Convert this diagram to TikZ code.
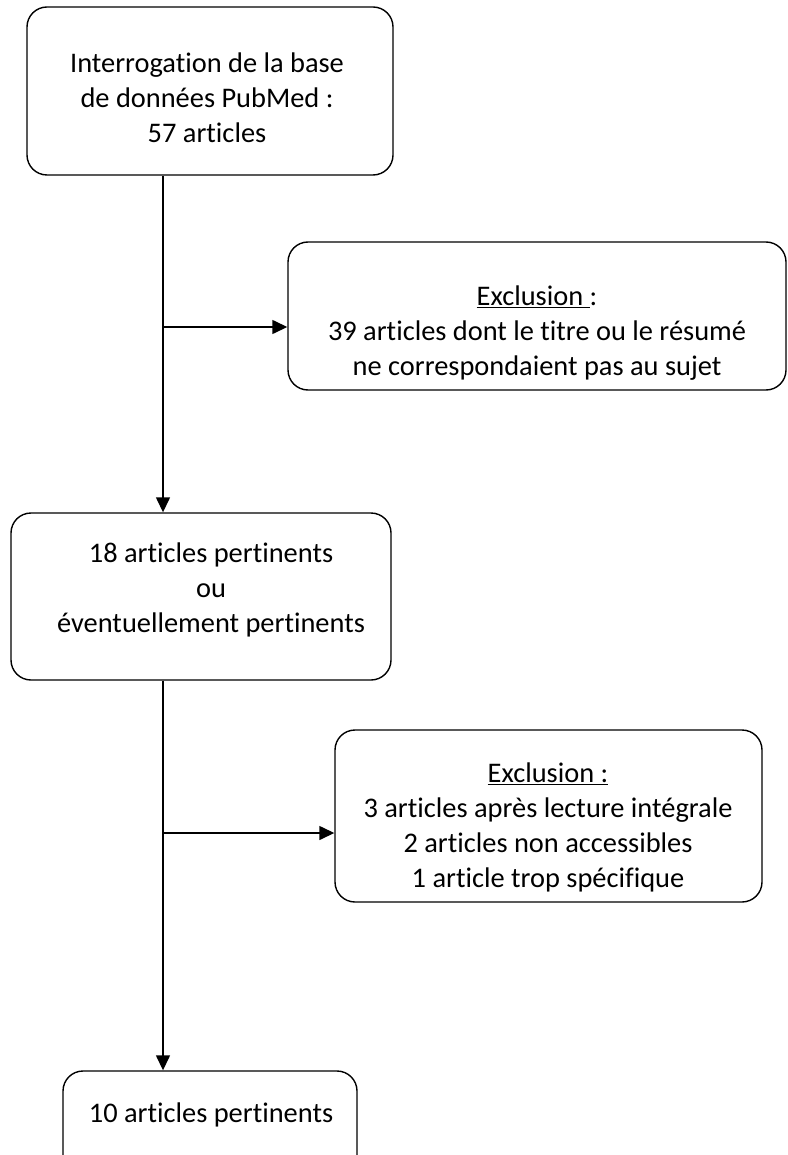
\documentclass[tikz,border=0pt]{standalone}
\usepackage{fontspec}
\setmainfont[Ligatures={NoCommon}]{Carlito}
\usetikzlibrary{arrows.meta}
\begin{document}
\begin{tikzpicture}[x=1pt,y=-1pt,
  box/.style={draw, line width=1.4pt, rounded corners=20pt, inner sep=0pt},
  txt/.style={align=center, inner sep=0pt, font=\fontsize{28.4}{35}\selectfont},
  arr/.style={line width=1.4pt, -{Triangle[length=15pt,width=14pt]}},
  ln/.style={line width=1.4pt}]
\useasboundingbox (0,0) rectangle (787,1155);
\clip (0,0) rectangle (787,1155);
% boxes
\node[box, minimum width=366pt, minimum height=168pt] (q) at (210,91) {};
\node[txt] (qt) at (207,97.5) {Interrogation de la base\\de données PubMed :\\57 articles};
\node[box, minimum width=498pt, minimum height=148pt] (e1) at (537,316) {};
\node[txt] (e1t) at (537,333) {\underline{Exclusion }:\\39 articles dont le titre ou le résumé\\ne correspondaient pas au sujet};
\node[box, minimum width=380pt, minimum height=167pt] (r) at (201,596.5) {};
\node[txt] (rt) at (211,590) {18 articles pertinents\\ou\\éventuellement pertinents};
\node[box, minimum width=427pt, minimum height=172pt] (e2) at (548.5,816) {};
\node[txt] (e2t) at (548,827.5) {\underline{Exclusion :}\\3 articles après lecture intégrale\\2 articles non accessibles\\1 article trop spécifique};
\node[box, minimum width=294pt, minimum height=120pt] (f) at (210,1131) {};
\node[txt] (ft) at (211,1115) {10 articles pertinents};
% connectors
\coordinate (s) at (163,0);
\coordinate (a1) at (163,327);
\coordinate (a2) at (163,833);
\draw[arr] (s |- q.south) -- (s |- r.north);
\draw[arr] (a1) -- (a1 -| e1.west);
\draw[arr] (s |- r.south) -- (s |- f.north);
\draw[arr] (a2) -- (a2 -| e2.west);
\end{tikzpicture}
\end{document}
